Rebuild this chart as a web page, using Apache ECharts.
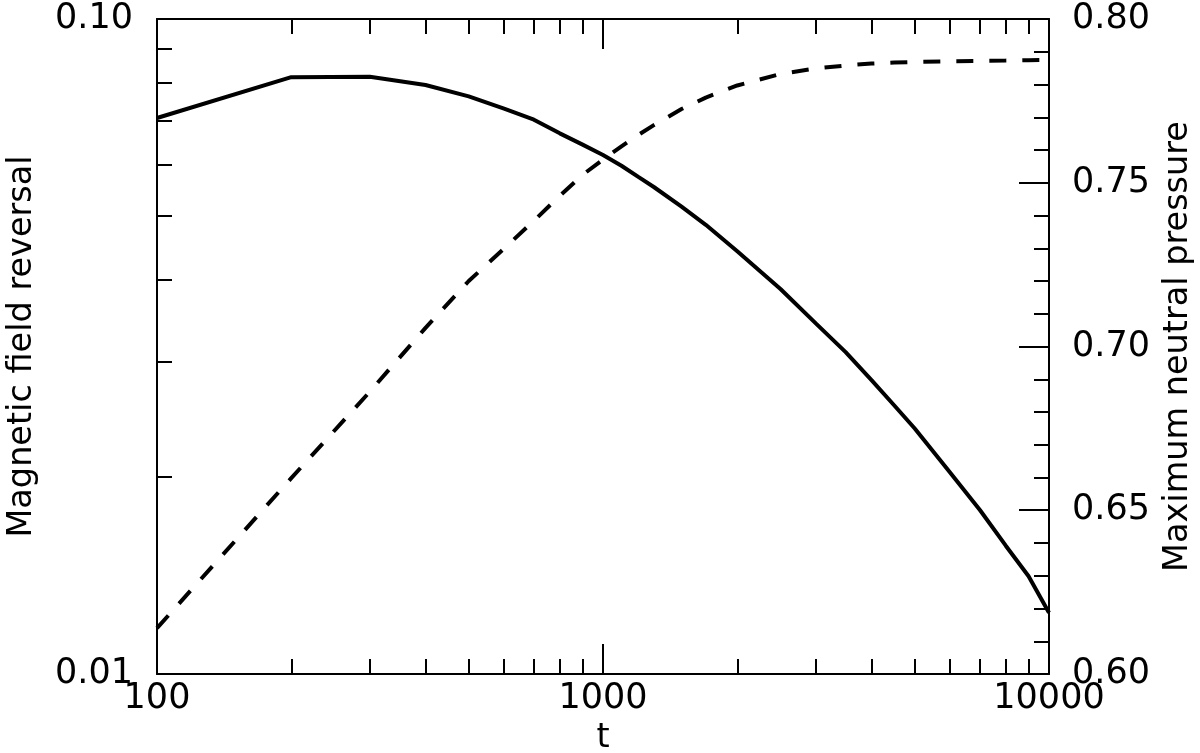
<!DOCTYPE html>
<html>
<head>
<meta charset="utf-8">
<script src="https://cdn.jsdelivr.net/npm/echarts@6/dist/echarts.min.js"></script>
<style>
html,body{margin:0;padding:0;background:#fff;}
#chart{width:1200px;height:753px;}
</style>
</head>
<body>
<div id="chart"></div>
<script>
// ---- data ----
const tValues = [100,200,300,400,500,600,700,800,900,1000,1100,1200,1300,1500,1700,2000,2500,3000,3500,4000,4500,5000,6000,7000,8000,9000,10000];
const fieldReversal = [0.0706,0.0815,0.0816,0.0793,0.0762,0.0730,0.0702,0.0669,0.0643,0.0620,0.0597,0.0574,0.0554,0.0517,0.0485,0.0442,0.0387,0.0343,0.0310,0.0281,0.0257,0.0237,0.0203,0.0178,0.0157,0.0141,0.0124];
const neutralPressure = [0.6140,0.6598,0.6862,0.7057,0.7200,0.7299,0.7384,0.7460,0.7524,0.7571,0.7611,0.7646,0.7676,0.7725,0.7760,0.7797,0.7832,0.7849,0.7858,0.7864,0.7867,0.7869,0.7871,0.7872,0.7873,0.7874,0.7875];
const xLabelValues = [100,1000,10000];
const xMajorTicks = [1000];
const xMinorTicks = [200,300,400,500,600,700,800,900,2000,3000,4000,5000,6000,7000,8000,9000];
const yLeftLabelValues = [0.01,0.1];
const yLeftMinorTicks = [0.02,0.03,0.04,0.05,0.06,0.07,0.08,0.09];

const FONT = 'DejaVu Sans';
const FS = 35;
const TFS = 33.5;
const black = '#000';

function xAxisDef(pos, opts) {
  return Object.assign({
    type: 'log', min: 100, max: 10000, logBase: 10, position: pos,
    axisLine: {show: false, lineStyle: {color: black, width: 2}},
    axisTick: {show: false},
    axisLabel: {show: false},
    splitLine: {show: false},
    minorTick: {show: false},
    minorSplitLine: {show: false}
  }, opts);
}

const option = {
  animation: false,
  backgroundColor: '#fff',
  grid: {left: 157, right: 151, top: 19, bottom: 79, containLabel: false, outerBoundsMode: 'none'},
  xAxis: [
    xAxisDef('bottom', {
      axisLine: {show: true, onZero: false, lineStyle: {color: black, width: 2}},
      axisTick: {show: true, inside: true, length: 30, customValues: xMajorTicks, lineStyle: {color: black, width: 2}},
      axisLabel: {show: true, customValues: xLabelValues, color: black, fontFamily: FONT, fontSize: FS, margin: 7,
        formatter: v => String(Math.round(v))},
      name: 't', nameLocation: 'middle', nameGap: 44,
      nameTextStyle: {color: black, fontFamily: FONT, fontSize: TFS}
    }),
    xAxisDef('bottom', {
      axisTick: {show: true, inside: true, length: 15, customValues: xMinorTicks, lineStyle: {color: black, width: 2}}
    }),
    xAxisDef('top', {
      axisLine: {show: true, onZero: false, lineStyle: {color: black, width: 2}},
      axisTick: {show: true, inside: true, length: 30, customValues: xMajorTicks, lineStyle: {color: black, width: 2}}
    }),
    xAxisDef('top', {
      axisTick: {show: true, inside: true, length: 15, customValues: xMinorTicks, lineStyle: {color: black, width: 2}}
    })
  ],
  yAxis: [
    {
      type: 'log', min: 0.01, max: 0.1, logBase: 10, position: 'left',
      axisLine: {show: true, onZero: false, lineStyle: {color: black, width: 2}},
      axisTick: {show: true, inside: true, length: 15, customValues: yLeftMinorTicks, lineStyle: {color: black, width: 2}},
      axisLabel: {show: true, customValues: yLeftLabelValues, color: black, fontFamily: FONT, fontSize: FS, margin: 24,
        formatter: v => v.toFixed(2)},
      splitLine: {show: false},
      name: 'Magnetic field reversal', nameLocation: 'middle', nameGap: 118, nameRotate: 90,
      nameTextStyle: {color: black, fontFamily: FONT, fontSize: TFS}
    },
    {
      type: 'value', min: 0.6, max: 0.8, interval: 0.05, position: 'right',
      axisLine: {show: true, onZero: false, lineStyle: {color: black, width: 2}},
      axisTick: {show: true, inside: true, length: 30, lineStyle: {color: black, width: 2}},
      minorTick: {show: true, splitNumber: 5, length: 15, lineStyle: {color: black, width: 2}},
      axisLabel: {show: true, color: black, fontFamily: FONT, fontSize: FS, margin: 23,
        formatter: v => v.toFixed(2)},
      splitLine: {show: false},
      name: 'Maximum neutral pressure', nameLocation: 'middle', nameGap: 111, nameRotate: 90,
      nameTextStyle: {color: black, fontFamily: FONT, fontSize: TFS}
    }
  ],
  series: [
    {
      type: 'line', name: 'Magnetic field reversal', xAxisIndex: 0, yAxisIndex: 0,
      data: tValues.map((t, i) => [t, fieldReversal[i]]),
      showSymbol: false, symbol: 'none', smooth: false,
      lineStyle: {color: black, width: 4}
    },
    {
      type: 'line', name: 'Maximum neutral pressure', xAxisIndex: 0, yAxisIndex: 1,
      data: tValues.map((t, i) => [t, neutralPressure[i]]),
      showSymbol: false, symbol: 'none', smooth: false,
      lineStyle: {color: black, width: 4, type: [17, 16]}
    }
  ]
};

const chart = echarts.init(document.getElementById('chart'), null, {renderer: 'canvas'});
chart.setOption(option);
</script>
</body>
</html>
